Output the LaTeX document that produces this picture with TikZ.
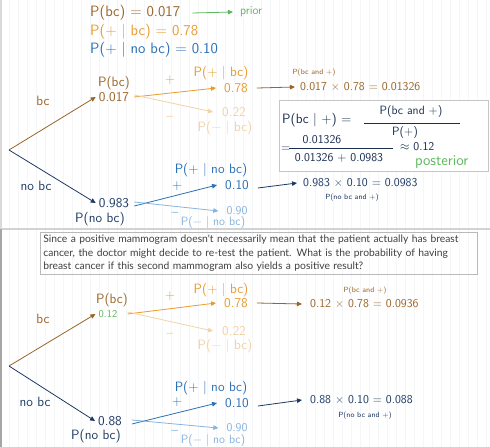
\documentclass[tikz,border=0pt]{standalone}
\usepackage{fontspec}
\newfontfamily\boxfont{Lato}
\usetikzlibrary{arrows.meta}
\definecolor{brn}{HTML}{9A6427}
\definecolor{org}{HTML}{E89B2E}
\definecolor{lorg}{HTML}{F3D2A6}
\definecolor{blu}{HTML}{2B6FB5}
\definecolor{dblu}{HTML}{1E3A63}
\definecolor{lblu}{HTML}{86B4DE}
\definecolor{grn}{HTML}{5CB85C}
\definecolor{gridc}{HTML}{F4F6F8}
\begin{document}
\begin{tikzpicture}[x=1pt,y=-1pt,
  hw/.style={font=\sffamily\fontsize{13.5}{13.5}\selectfont, inner sep=0pt},
  hwh/.style={font=\sffamily\fontsize{15}{15}\selectfont, inner sep=0pt},
  hwp/.style={font=\sffamily\fontsize{12}{12}\selectfont, inner sep=0pt},
  hws/.style={font=\sffamily\fontsize{7.5}{8}\selectfont, inner sep=0pt},
  arr/.style={-{Triangle[length=5pt,width=4.5pt]}, line width=0.8pt},
  frame/.style={draw=gray!45, line width=0.8pt}]
\useasboundingbox (0,0) rectangle (490,447);
\fill[white] (0,0) rectangle (490,447);
\draw[gridc, line width=0.3pt, step=9] (0,0) grid (490,447);
% frame lines
\draw[gray!35, line width=1.5pt] (0,229) -- (490,229);
\draw[gray!30, line width=1.5pt] (1,0) -- (1,229);
\draw[gray!70, line width=1.5pt] (1,229) -- (1,447);

% ---------- header ----------
\node[hwh,brn,anchor=west] (pbc) at (90,13) {P(bc) = 0.017};
\node[hwp,grn,anchor=west] (prior) at (240,12) {prior};
\draw[arr,grn] ([xshift=12pt]pbc.east) -- ([xshift=-7pt]prior.west);
\node[hwh,org,anchor=west] (ppbc) at (90,32) {P(+ | bc) = 0.78};
\node[hwh,blu,anchor=west] (ppnbc) at (90,50) {P(+ | no bc) = 0.10};

% ---------- tree 1 ----------
\coordinate (r1) at (9,150);
\node[hw,brn] (v1) at (114,97) {0.017};
\node[hw,brn] (pv1) at (114,83) {P(bc)};
\node[hw,brn] (bc1) at (43,101) {bc};
\draw[arr,brn] (r1) -- ([xshift=-3pt]v1.west);
\node[hw,dblu] (w1) at (114,203) {0.983};
\node[hw,dblu] (pw1) at (100,219) {P(no bc)};
\node[hw,dblu] (nb1) at (36,186) {no bc};
\draw[arr,dblu] (r1) -- ([xshift=-3pt]w1.west);

\node[hw,org] (a1) at (236,88) {0.78};
\node[hw,org] (pa1) at (221,73) {P(+ | bc)};
\node[hw,org] (pl1) at (170,80) {+};
\draw[arr,org] ([xshift=5pt]v1.east) -- ([xshift=-8pt]a1.west);
\node[hw,lorg] (b1) at (234,112) {0.22};
\node[hw,lorg] (pb1) at (225,128) {P(− | bc)};
\node[hw,lorg] (mi1) at (170,118) {–};
\draw[arr,lorg] ([xshift=5pt,yshift=2pt]v1.east) -- ([xshift=-9pt]b1.west);

\node[hwp,brn,anchor=west] (m1) at (300,87) {0.017 × 0.78 = 0.01326};
\node[hws,brn] (s1) at (314,73) {P(bc and +)};
\draw[arr,brn] ([xshift=9pt]a1.east) -- ([xshift=-5pt]m1.west);

\node[hw,blu] (c1) at (237,185) {0.10};
\node[hw,blu] (pc1) at (211,170) {P(+ | no bc)};
\node[hw,blu] (pl2) at (177,186) {+};
\draw[arr,blu] ([xshift=5pt,yshift=-3pt]w1.east) -- ([xshift=-8pt]c1.west);
\node[hwp,lblu] (d1) at (237,211) {0.90};
\node[hwp,lblu] (pd1) at (213,223) {P(− | no bc)};
\node[hw,lblu] (mi2) at (175,214) {–};
\draw[arr,lblu] ([xshift=5pt,yshift=1pt]w1.east) -- ([xshift=-8pt]d1.west);

\node[hwp,dblu,anchor=west] (m2) at (303,183) {0.983 × 0.10 = 0.0983};
\node[hws,dblu] (s2) at (352,198) {P(no bc and +)};
\draw[arr,dblu] ([xshift=9pt,yshift=-3pt]c1.east) -- ([xshift=-6pt]m2.west);

% ---------- Bayes box ----------
\node[frame, fill=white, anchor=north west, minimum width=209pt, minimum height=71pt, inner sep=0pt] (box) at (279,100) {};
\node[hw,dblu!80!black,anchor=west] (lhs) at (282,120) {P(bc | +) =};
\node[hwp,dblu!80!black] (num1) at (411,112) {P(bc and +)};
\draw[dblu!80!black, line width=0.5pt] (364,123) -- (460,123);
\node[hwp,dblu!80!black] (den1) at (405,133) {P(+)};
\node[hwp,dblu!80!black,anchor=west] (eq2) at (281,149) {=};
\node[hwp,dblu!80!black] (num2) at (322,140) {0.01326};
\draw[dblu!80!black, line width=0.5pt] (289,148) -- (393,148);
\node[hwp,dblu!80!black] (den2) at (339,158) {0.01326 + 0.0983};
\node[hwp,dblu!80!black,anchor=west] (apx) at (400,147) {$\approx$ 0.12};
\node[grn,anchor=west,inner sep=0pt,font=\sffamily\fontsize{15}{15}\selectfont] (post) at (415,162) {posterior};

% ---------- question ----------
\node[draw=gray!55, line width=0.7pt, anchor=north west, inner xsep=3pt, inner ysep=3pt,
      text width=431pt, align=left, text=black!75,
      font=\boxfont\fontsize{10.3}{13.2}\selectfont] (q) at (40,232)
 {Since a positive mammogram doesn't necessarily mean that the patient actually has breast\\
  cancer, the doctor might decide to re-test the patient. What is the probability of having\\
  breast cancer if this second mammogram also yields a positive result?};

% ---------- tree 2 ----------
\coordinate (r2) at (9,366);
\node[hw,grn,font=\sffamily\fontsize{10.5}{10.5}\selectfont] (v2) at (108,314) {0.12};
\node[hw,brn] (pv2) at (112,300) {P(bc)};
\node[hw,brn] (bc2) at (43,319) {bc};
\draw[arr,brn] (r2) -- ([xshift=-3pt]v2.west);
\node[hw,dblu] (w2) at (110,421) {0.88};
\node[hw,dblu] (pw2) at (96,436) {P(no bc)};
\node[hw,dblu] (nb2) at (35,402) {no bc};
\draw[arr,dblu] (r2) -- ([xshift=-3pt]w2.west);

\node[hw,org] (a2) at (236,303) {0.78};
\node[hw,org] (pa2) at (221,290) {P(+ | bc)};
\node[hw,org] (pl3) at (170,296) {+};
\draw[arr,org] ([xshift=10pt]v2.east) -- ([xshift=-8pt]a2.west);
\node[hw,lorg] (b2) at (234,331) {0.22};
\node[hw,lorg] (pb2) at (225,346) {P(− | bc)};
\node[hw,lorg] (mi3) at (170,335) {–};
\draw[arr,lorg] ([xshift=10pt,yshift=2pt]v2.east) -- ([xshift=-9pt]b2.west);

\node[hwp,brn,anchor=west] (m3) at (310,304) {0.12 × 0.78 = 0.0936};
\node[hws,brn] (s3) at (365,291) {P(bc and +)};
\draw[arr,brn] ([xshift=9pt]a2.east) -- ([xshift=-8pt]m3.west);

\node[hw,blu] (c2) at (237,403) {0.10};
\node[hw,blu] (pc2) at (211,388) {P(+ | no bc)};
\node[hw,blu] (pl4) at (177,402) {+};
\draw[arr,blu] ([xshift=10pt,yshift=-3pt]w2.east) -- ([xshift=-8pt]c2.west);
\node[hwp,lblu] (d2) at (237,428) {0.90};
\node[hwp,lblu] (pd2) at (213,440.5) {P(− | no bc)};
\node[hw,lblu] (mi4) at (175,432) {–};
\draw[arr,lblu] ([xshift=10pt,yshift=1pt]w2.east) -- ([xshift=-8pt]d2.west);

\node[hwp,dblu,anchor=west] (m4) at (310,400) {0.88 × 0.10 = 0.088};
\node[hws,dblu] (s4) at (365,416) {P(no bc and +)};
\draw[arr,dblu] ([xshift=9pt,yshift=-3pt]c2.east) -- ([xshift=-8pt]m4.west);
\end{tikzpicture}
\end{document}
